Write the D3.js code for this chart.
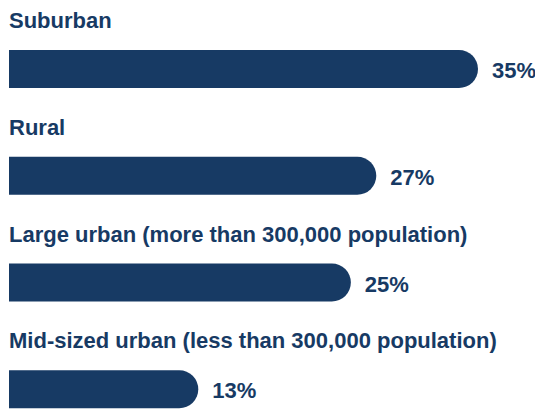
<!DOCTYPE html>
<html>
<head>
<meta charset="utf-8">
<script src="https://cdn.jsdelivr.net/npm/d3@7"></script>
<style>
  html, body { margin: 0; padding: 0; background: #ffffff; }
  svg { display: block; }
  text { font-family: "Liberation Sans", Arial, sans-serif; font-weight: bold; fill: #173a64; }
</style>
</head>
<body>
<svg id="chart" width="535" height="409"></svg>
<script>
// Share of respondents by community type
const categories = [
  "Suburban",
  "Rural",
  "Large urban (more than 300,000 population)",
  "Mid-sized urban (less than 300,000 population)"
];
const values = [35, 27, 25, 13];
const valueLabels = ["35%", "27%", "25%", "13%"];

const width = 535, height = 409;
const left = 9;
const barH = 38;
const navy = "#173a64";

const svg = d3.select("#chart");

const rows = d3.scaleBand()
  .domain(categories)
  .range([0, 427])
  .paddingInner(0)
  .paddingOuter(0);

// Bar end positions; the rounded cap sits at the end of each bar
const x = d3.scaleLinear()
  .domain([0, 35])
  .range([33, 478]);

// Flat-left, round-right bar shape
function pill(x0, x1, y, h) {
  const r = h / 2;
  const p = d3.path();
  p.moveTo(x0, y);
  p.lineTo(x1 - r, y);
  p.arc(x1 - r, y + r, r, -Math.PI / 2, Math.PI / 2);
  p.lineTo(x0, y + h);
  p.closePath();
  return p.toString();
}

const data = categories.map((c, i) => ({ cat: c, value: values[i], label: valueLabels[i] }));

const g = svg.selectAll("g.row")
  .data(data)
  .join("g")
  .attr("class", "row")
  .attr("transform", d => `translate(0,${rows(d.cat)})`);

g.append("text")
  .attr("x", left)
  .attr("y", 28)
  .attr("font-size", 22)
  .text(d => d.cat);

g.append("path")
  .attr("d", d => pill(left, x(d.value), 50, barH))
  .attr("fill", navy);

g.append("text")
  .attr("x", d => x(d.value) + 14)
  .attr("y", 78)
  .attr("font-size", 22)
  .text(d => d.label);
</script>
</body>
</html>
